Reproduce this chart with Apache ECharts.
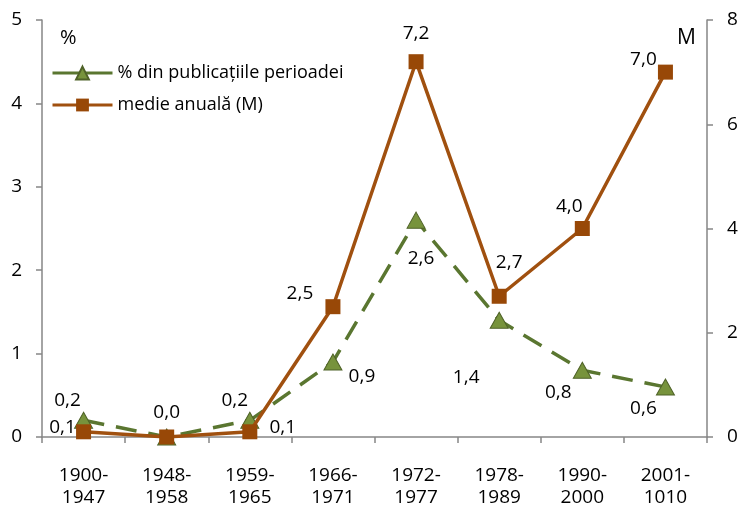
<!DOCTYPE html>
<html>
<head>
<meta charset="utf-8">
<script src="https://cdn.jsdelivr.net/npm/echarts@6/dist/echarts.min.js"></script>
<style>
  html, body { margin: 0; padding: 0; background: #fff; }
  #chart { width: 740px; height: 507px; }
</style>
</head>
<body>
<div id="chart"></div>
<script>
// Periods (two-line category labels)
const periods = ['1900-\n1947', '1948-\n1958', '1959-\n1965', '1966-\n1971', '1972-\n1977', '1978-\n1989', '1990-\n2000', '2001-\n1010'];
// Share of the period's publications (%), left axis
const percentValues = [0.2, 0.0, 0.2, 0.9, 2.6, 1.4, 0.8, 0.6];
// Annual average (M), right axis
const annualMean = [0.1, 0.0, 0.1, 2.5, 7.2, 2.7, 4.0, 7.0];
// Axis tick values
const leftTicks = [0, 1, 2, 3, 4, 5];
const rightTicks = [0, 2, 4, 6, 8];

const seriesNames = ['% din publicațiile perioadei', 'medie anuală (M)'];

// Label placement around each marker (pixel offsets from the marker centre)
const percentLabelOffsets = [[-16, -20], [0, -24], [-15, -20], [29, 15], [5, 38], [-33, 57], [-24, 22], [-22, 22]];
const meanLabelOffsets = [[-21, -4], null, [33, -4], [-33, -13], [0, -28], [10, -34], [-13, -22], [-22, -13]];

const FONT = '"Open Sans", "DejaVu Sans", sans-serif';
const fmt = v => v.toFixed(1).replace('.', ',');

function withLabels(values, offsets) {
  return values.map((v, i) => {
    const off = offsets[i];
    if (!off) return { value: v, label: { show: false } };
    return { value: v, label: { show: true, position: 'inside', offset: off } };
  });
}

const chart = echarts.init(document.getElementById('chart'), null, { renderer: 'canvas' });

const axisColor = '#868686';
const labelStyle = { color: '#000', fontFamily: FONT, fontSize: 19 };

const greenLine = '#5A7630';
const brownLine = '#A0500F';

chart.setOption({
  animation: false,
  backgroundColor: '#fff',
  grid: { left: 42, right: 33, top: 20, bottom: 70, containLabel: false, outerBoundsMode: 'none' },
  legend: {
    left: 51, top: 64, orient: 'vertical', padding: 0,
    itemWidth: 60, itemHeight: 16, itemGap: 14,
    textStyle: { color: '#000', fontFamily: FONT, fontSize: 18 },
    data: [
      { name: seriesNames[0], lineStyle: { type: 'solid', width: 3, color: greenLine } },
      { name: seriesNames[1], lineStyle: { type: 'solid', width: 3, color: brownLine } }
    ]
  },
  xAxis: {
    type: 'category',
    data: periods,
    boundaryGap: true,
    axisLine: { lineStyle: { color: axisColor, width: 1.5 } },
    axisTick: { show: true, length: 6, lineStyle: { color: axisColor, width: 1.5 } },
    axisLabel: Object.assign({ margin: 28, lineHeight: 22, interval: 0 }, labelStyle),
    splitLine: { show: false }
  },
  yAxis: [
    {
      type: 'value', min: leftTicks[0], max: leftTicks[leftTicks.length - 1], interval: 1,
      axisLine: { show: true, lineStyle: { color: axisColor, width: 1.5 } },
      axisTick: { show: true, length: 6, lineStyle: { color: axisColor, width: 1.5 } },
      axisLabel: Object.assign({ margin: 20 }, labelStyle),
      splitLine: { show: false }
    },
    {
      type: 'value', min: rightTicks[0], max: rightTicks[rightTicks.length - 1], interval: 2,
      position: 'right',
      axisLine: { show: true, lineStyle: { color: axisColor, width: 1.5 } },
      axisTick: { show: true, length: 6, lineStyle: { color: axisColor, width: 1.5 } },
      axisLabel: Object.assign({ margin: 20 }, labelStyle),
      splitLine: { show: false }
    }
  ],
  series: [
    {
      name: seriesNames[0],
      type: 'line',
      yAxisIndex: 0,
      z: 2,
      data: withLabels(percentValues, percentLabelOffsets),
      symbol: 'triangle',
      symbolSize: [18, 16],
      lineStyle: { color: greenLine, width: 3.5, type: [21, 12] },
      itemStyle: { color: '#77933C', borderColor: '#4F6228', borderWidth: 1 },
      label: { show: true, formatter: p => fmt(p.value), color: '#000', fontFamily: FONT, fontSize: 19 }
    },
    {
      name: seriesNames[1],
      type: 'line',
      yAxisIndex: 1,
      z: 3,
      data: withLabels(annualMean, meanLabelOffsets),
      symbol: 'rect',
      symbolSize: 15,
      lineStyle: { color: brownLine, width: 3.5 },
      itemStyle: { color: '#984807', borderColor: '#984807', borderWidth: 0 },
      label: { show: true, formatter: p => fmt(p.value), color: '#000', fontFamily: FONT, fontSize: 19 }
    }
  ],
  graphic: [
    { type: 'text', left: 60, top: 28, style: { text: '%', fill: '#000', font: '20px ' + FONT } },
    { type: 'text', left: 677, top: 28, style: { text: 'M', fill: '#000', font: '21px ' + FONT } }
  ]
});
</script>
</body>
</html>
